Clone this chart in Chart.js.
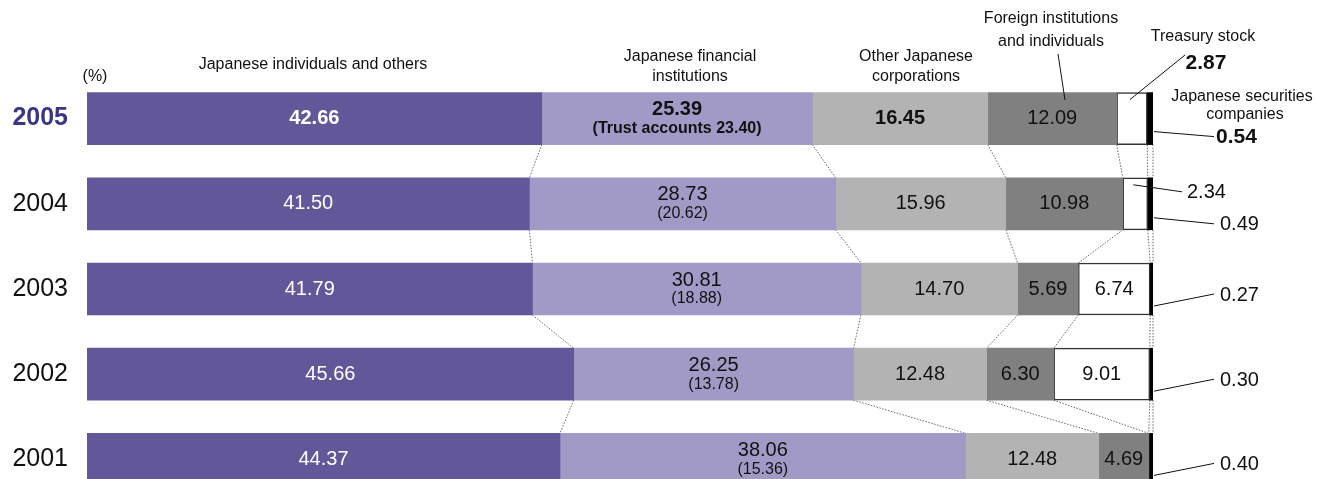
<!DOCTYPE html>
<html>
<head>
<meta charset="utf-8">
<script src="https://cdn.jsdelivr.net/npm/chart.js@4.4.1/dist/chart.umd.min.js"></script>
<style>
  html, body { margin: 0; padding: 0; overflow: hidden; background: #fff; }
  #wrap { position: relative; width: 1317px; height: 502px; }
</style>
</head>
<body>
<div id="wrap"><canvas id="shareChart"></canvas></div>
<script>
// Distribution of shareholders (%), top row = latest year
const years = ["2005", "2004", "2003", "2002", "2001"];
const individuals = [42.66, 41.50, 41.79, 45.66, 44.37];
const financial = [25.39, 28.73, 30.81, 26.25, 38.06];
const trustAccounts = [23.40, 20.62, 18.88, 13.78, 15.36];
const otherCorps = [16.45, 15.96, 14.70, 12.48, 12.48];
const foreign = [12.09, 10.98, 5.69, 6.30, 4.69];
const treasury = [2.87, 2.34, 6.74, 9.01, 0];
const securities = [0.54, 0.49, 0.27, 0.30, 0.40];

const FONT = "'Liberation Sans', Arial, Helvetica, sans-serif";
const fmt = v => v.toFixed(2);

function font(size, bold) {
    return (bold ? "bold " : "") + size + "px " + FONT;
}

// dotted lines joining the segment boundaries of neighbouring bars
const connectorPlugin = {
    id: "connectors",
    beforeDatasetsDraw(chart) {
        const ctx = chart.ctx;
        const metas = chart.data.datasets.map((d, k) => chart.getDatasetMeta(k));
        ctx.save();
        ctx.strokeStyle = "#666";
        ctx.lineWidth = 1;
        ctx.setLineDash([1.5, 1.5]);
        for (let i = 0; i < years.length - 1; i++) {
            metas.forEach(meta => {
                const a = meta.data[i], b = meta.data[i + 1];
                ctx.beginPath();
                ctx.moveTo(a.x, a.y + a.height / 2);
                ctx.lineTo(b.x, b.y - b.height / 2);
                ctx.stroke();
            });
        }
        ctx.restore();
    }
};

// values inside the bars, callouts and category headers
const labelPlugin = {
    id: "labels",
    afterDatasetsDraw(chart) {
        const ctx = chart.ctx;
        ctx.save();
        ctx.textAlign = "center";
        ctx.textBaseline = "middle";

        chart.data.datasets.forEach((ds, k) => {
            const meta = chart.getDatasetMeta(k);
            meta.data.forEach((el, i) => {
                const w = Math.abs(el.x - el.base);
                if (w < 45) return;
                const cx = (el.x + el.base) / 2, cy = el.y;
                const bold = i === 0 && k !== 3;
                ctx.fillStyle = k === 0 ? "#fff" : "#111";
                if (k === 1) {
                    ctx.font = font(20, bold);
                    ctx.fillText(fmt(ds.data[i]), cx, cy - 9);
                    ctx.font = font(16, bold);
                    const sub = i === 0 ? "(Trust accounts " + fmt(trustAccounts[i]) + ")" : "(" + fmt(trustAccounts[i]) + ")";
                    ctx.fillText(sub, cx, cy + 10);
                } else {
                    ctx.font = font(20, bold);
                    ctx.fillText(fmt(ds.data[i]), cx, cy);
                }
            });
        });

        // callouts for thin segments
        ctx.strokeStyle = "#111";
        ctx.lineWidth = 1;
        ctx.fillStyle = "#111";
        const tMeta = chart.getDatasetMeta(4);
        const sMeta = chart.getDatasetMeta(5);

        // treasury stock 2005
        let el = tMeta.data[0];
        let cx = (el.x + el.base) / 2;
        ctx.beginPath();
        ctx.moveTo(cx - 2, el.y - 19);
        ctx.lineTo(1185, 55);
        ctx.stroke();
        ctx.font = font(16, false);
        ctx.fillText("Treasury stock", 1203, 37);
        ctx.font = font(21, true);
        ctx.fillText(fmt(treasury[0]), 1206, 63);

        // treasury stock 2004
        el = tMeta.data[1];
        cx = (el.x + el.base) / 2;
        ctx.beginPath();
        ctx.moveTo(cx - 2, el.y - 19);
        ctx.lineTo(1182, el.y - 12);
        ctx.stroke();
        ctx.textAlign = "left";
        ctx.font = font(20, false);
        ctx.fillText(fmt(treasury[1]), 1187, el.y - 11);

        // securities companies, every year
        const endDy = [18, 20, 5, 5, 4];
        const startDy = [13, 14, 17, 17, 16];
        sMeta.data.forEach((s, i) => {
            ctx.beginPath();
            ctx.moveTo(s.x + 1, s.y + startDy[i]);
            ctx.lineTo(1214, s.y + endDy[i]);
            ctx.stroke();
            ctx.textAlign = "left";
            ctx.font = i === 0 ? font(21, true) : font(20, false);
            ctx.fillText(fmt(securities[i]), i === 0 ? 1216 : 1220, s.y + endDy[i] + 1);
        });

        ctx.textAlign = "center";
        ctx.font = font(16, false);
        ctx.fillText("Japanese securities", 1242, 97);
        ctx.fillText("companies", 1245, 115);

        // headers
        ctx.fillText("(%)", 95, 77);
        ctx.fillText("Japanese individuals and others", 313, 65);
        ctx.fillText("Japanese financial", 690, 57);
        ctx.fillText("institutions", 690, 77);
        ctx.fillText("Other Japanese", 916, 57);
        ctx.fillText("corporations", 916, 77);
        ctx.fillText("Foreign institutions", 1051, 19);
        ctx.fillText("and individuals", 1051, 42);

        ctx.beginPath();
        ctx.moveTo(1058, 54);
        ctx.lineTo(1065, 100);
        ctx.stroke();

        ctx.restore();
    }
};

const ctx = document.getElementById("shareChart").getContext("2d");
new Chart(ctx, {
    type: "bar",
    data: {
        labels: years,
        datasets: [
            { label: "Japanese individuals and others", data: individuals, backgroundColor: "#625799" },
            { label: "Japanese financial institutions", data: financial, backgroundColor: "#a29ac6" },
            { label: "Other Japanese corporations", data: otherCorps, backgroundColor: "#b3b3b3" },
            { label: "Foreign institutions and individuals", data: foreign, backgroundColor: "#808080" },
            {
                label: "Treasury stock", data: treasury, backgroundColor: "#ffffff",
                borderColor: "#333", borderSkipped: false,
                borderWidth: c => treasury[c.dataIndex] > 0 ? 1.5 : 0
            },
            { label: "Japanese securities companies", data: securities, backgroundColor: "#000000" }
        ]
    },
    options: {
        indexAxis: "y",
        responsive: true,
        maintainAspectRatio: false,
        animation: false,
        barThickness: 52,
        layout: { padding: { top: 76, right: 164, bottom: 0, left: 0 } },
        scales: {
            x: { stacked: true, min: 0, max: 100, display: false },
            y: {
                stacked: true,
                grid: { display: false, drawTicks: false },
                border: { display: false },
                afterFit: s => {
                    s.width = 87;
                    s.paddingTop = 0;
                    s.paddingBottom = 0;
                },
                ticks: {
                    padding: 19,
                    color: c => c.index === 0 ? "#3b3589" : "#111",
                    font: c => ({ family: FONT, size: 25, weight: c.index === 0 ? "bold" : "normal" })
                }
            }
        },
        plugins: {
            legend: { display: false },
            tooltip: { enabled: false }
        }
    },
    plugins: [connectorPlugin, labelPlugin]
});
</script>
</body>
</html>
